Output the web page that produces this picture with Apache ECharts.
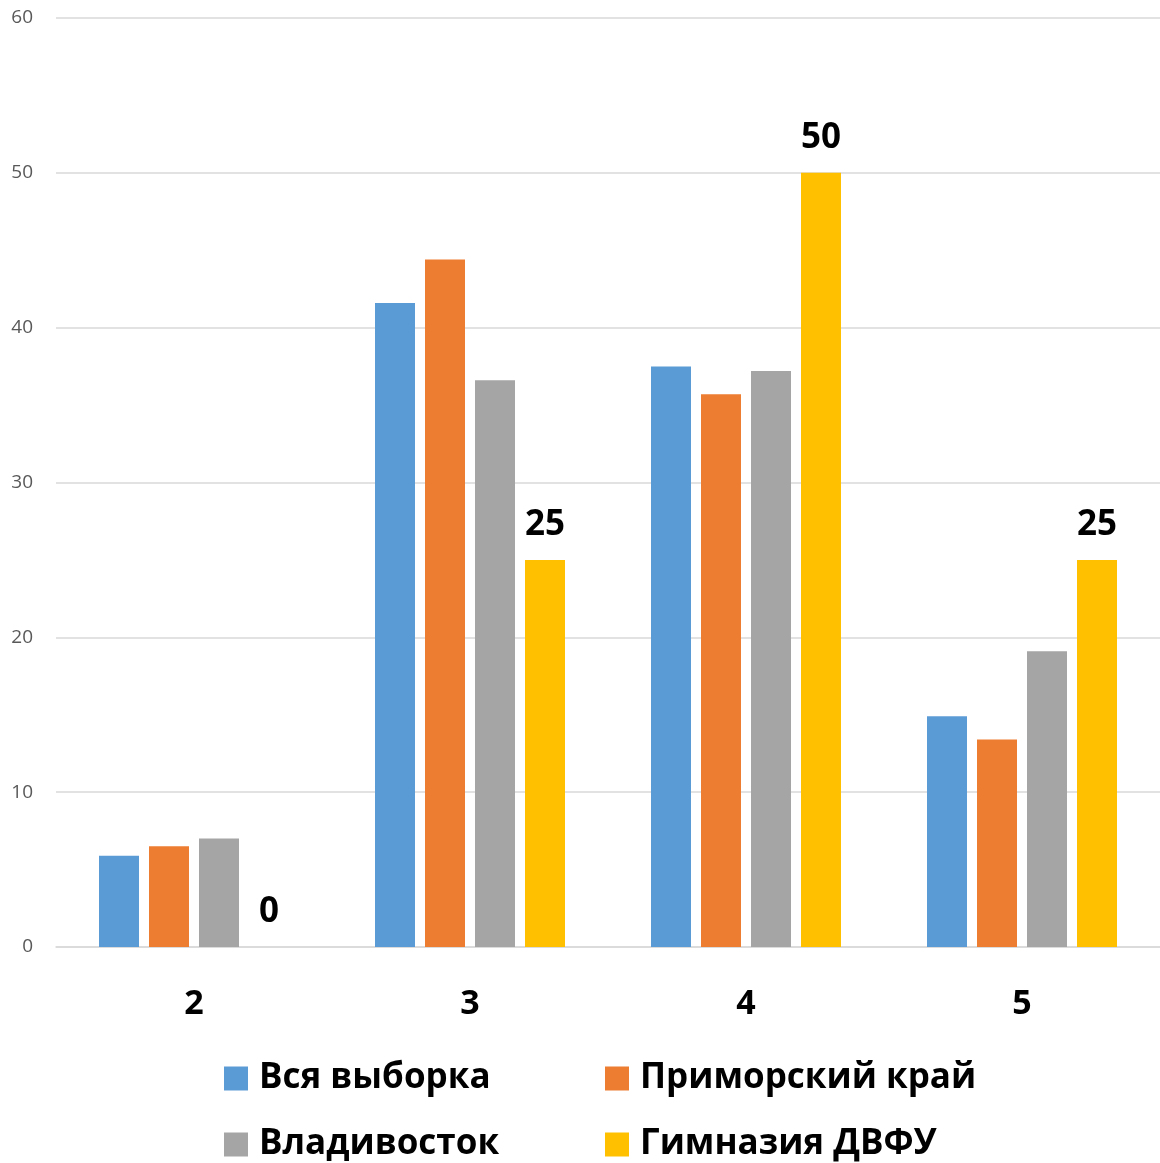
<!DOCTYPE html>
<html>
<head>
<meta charset="utf-8">
<script src="https://cdn.jsdelivr.net/npm/echarts@6/dist/echarts.min.js"></script>
<style>
  html, body { margin: 0; padding: 0; background: #fff; }
  #chart { width: 1160px; height: 1163px; }
</style>
</head>
<body>
<div id="chart"></div>
<script>
// оценки
const categories = ['2', '3', '4', '5'];
const allSample = [5.9, 41.6, 37.5, 14.9];
const primorye = [6.5, 44.4, 35.7, 13.4];
const vladivostok = [7.0, 36.6, 37.2, 19.1];
const gymnasium = [0, 25, 50, 25];
const seriesNames = ['Вся выборка', 'Приморский край', 'Владивосток', 'Гимназия ДВФУ'];
const colors = ['#5b9bd5', '#ed7d31', '#a5a5a5', '#ffc000'];
const yTicks = [0, 10, 20, 30, 40, 50, 60];

const font = '"Open Sans", "DejaVu Sans", sans-serif';
const chart = echarts.init(document.getElementById('chart'));

const legendPos = [[224, 1061], [605, 1061], [224, 1127], [605, 1127]];
const legends = seriesNames.map((name, i) => ({
  data: [name],
  left: legendPos[i][0],
  top: legendPos[i][1],
  itemWidth: 24,
  itemHeight: 24,
  itemGap: 0,
  icon: 'rect',
  padding: 0,
  textStyle: { fontFamily: font, fontSize: 35, fontWeight: 'bold', color: '#000', padding: [0, 0, 0, 6] },
  selectedMode: false
}));

const seriesData = [allSample, primorye, vladivostok, gymnasium];

chart.setOption({
  animation: false,
  color: colors,
  legend: legends,
  grid: { left: 56, right: -2, top: 18, bottom: 216 },
  xAxis: {
    type: 'category',
    data: categories,
    axisTick: { show: false },
    axisLine: { lineStyle: { color: '#d9d9d9', width: 1.5 } },
    axisLabel: { fontFamily: font, fontSize: 34, fontWeight: 'bold', color: '#000', margin: 40 }
  },
  yAxis: {
    type: 'value',
    min: yTicks[0],
    max: yTicks[yTicks.length - 1],
    interval: 10,
    axisLine: { show: false },
    axisTick: { show: false },
    splitLine: { lineStyle: { color: '#d9d9d9', width: 1.5 } },
    axisLabel: { fontFamily: font, fontSize: 19, color: '#595959', margin: 23 }
  },
  series: seriesData.map((d, i) => ({
    name: seriesNames[i],
    type: 'bar',
    data: d,
    barWidth: 40,
    barGap: '25%',
    barCategoryGap: '31%',
    label: i === 3 ? {
      show: true,
      position: 'top',
      distance: 17,
      fontFamily: font,
      fontSize: 35,
      fontWeight: 'bold',
      color: '#000'
    } : { show: false }
  }))
});
</script>
</body>
</html>
